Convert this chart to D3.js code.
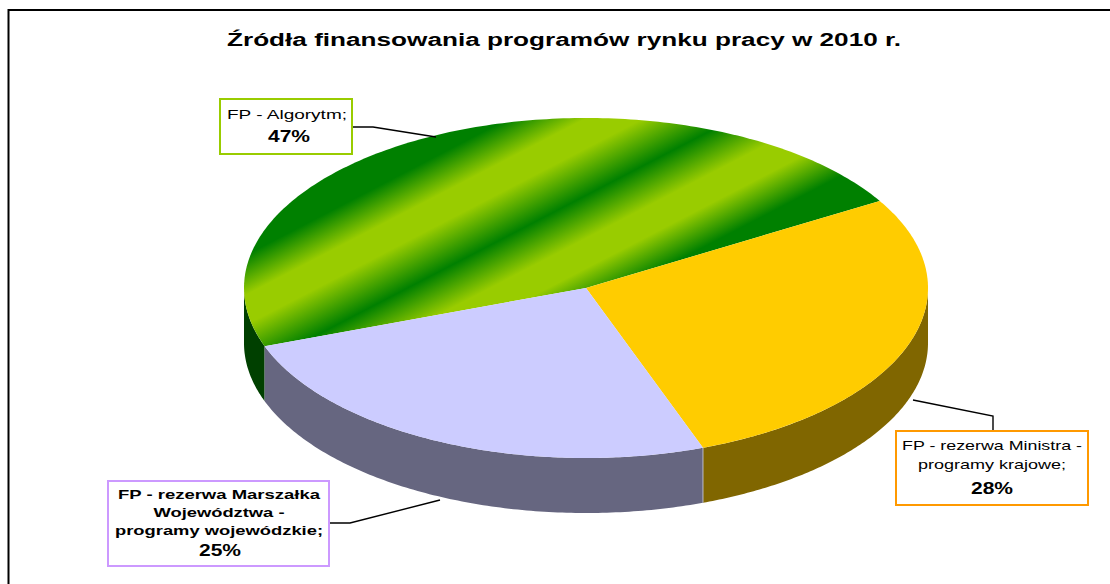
<!DOCTYPE html>
<html lang="pl">
<head>
<meta charset="utf-8">
<title>Źródła finansowania programów rynku pracy w 2010 r.</title>
<script src="https://cdn.jsdelivr.net/npm/d3@7"></script>
<style>
  html, body { margin: 0; padding: 0; background: #fff; }
  svg { display: block; font-family: "Liberation Sans", Arial, sans-serif; }
</style>
</head>
<body>
<svg id="chart" width="1110" height="584"></svg>
<script>
// dane
const categories = ["FP - Algorytm", "FP - rezerwa Ministra - programy krajowe", "FP - rezerwa Marszałka Województwa - programy wojewódzkie"];
const values = [47, 28, 25];
const labelLines = [
  ["FP - Algorytm;"],
  ["FP - rezerwa Ministra -", "programy krajowe;"],
  ["FP - rezerwa Marszałka", "Województwa -", "programy wojewódzkie;"]
];
const titleText = "Źródła finansowania programów rynku pracy w 2010 r.";

const topColors = ["url(#algorytm)", "#ffcc00", "#ccccff"];
const wallColors = ["#004000", "#806600", "#666680"];
const borderColors = ["#99cc00", "#ff9900", "#cc99ff"];

// pozycje etykiet: ramka, tekst (baseline, szerokość) i linia odniesienia
const boxes = [
  { x: 220, y: 99, w: 132, h: 55, bold: false, mid: 287, pctMid: 289, lines: [[119, 120]], pctY: 142,
    leader: [[352, 127], [373, 127], [436, 137]] },
  { x: 896, y: 431, w: 192, h: 74, bold: false, mid: 992, pctMid: 992, lines: [[450, 180], [469, 148]], pctY: 494,
    leader: [[913, 400], [993, 416], [993, 431]] },
  { x: 108, y: 481, w: 221, h: 85, bold: true, mid: 219, pctMid: 220, lines: [[499, 202], [517, 131], [535, 208]], pctY: 556,
    leader: [[329, 523], [350, 523], [440, 500]] }
];

const cx = 586, cy = 288, rx = 342, ry = 170, depth = 55;
const startAngle = 250 * Math.PI / 180;

const svg = d3.select("#chart");

// gradient w paski dla największego wycinka
const dark = "#008000", light = "#99cc00";
const grad = svg.append("defs").append("linearGradient")
    .attr("id", "algorytm")
    .attr("gradientUnits", "userSpaceOnUse")
    .attr("x1", 400).attr("y1", 175)
    .attr("x2", 494).attr("y2", 356);
[[0, dark], [0.174, light], [0.304, light], [0.509, dark], [0.696, light], [0.826, light], [1, dark]].forEach(s => {
  grad.append("stop").attr("offset", s[0]).attr("stop-color", s[1]);
});

// ramka wykresu - wychodzi poza prawą i dolną krawędź
svg.append("rect")
    .attr("x", 8.5).attr("y", 10)
    .attr("width", 1130).attr("height", 600)
    .attr("fill", "#fff")
    .attr("stroke", "#000").attr("stroke-width", 2);

// tekst w oryginale jest rozciągnięty w poziomie, stąd textLength
svg.append("text")
    .attr("x", 564).attr("y", 46)
    .attr("text-anchor", "middle")
    .attr("font-size", 18).attr("font-weight", "bold")
    .attr("textLength", 674).attr("lengthAdjust", "spacingAndGlyphs")
    .text(titleText);

const pie = d3.pie().sort(null)
    .startAngle(startAngle)
    .endAngle(startAngle + 2 * Math.PI);
const slices = pie(values);

const px = a => cx + rx * Math.sin(a);
const py = a => cy - ry * Math.cos(a);

// ściana boczna - tylko przednia połowa elipsy
function wallPath(d) {
  const parts = [];
  [0, 1].forEach(k => {
    const lo = Math.max(d.startAngle, Math.PI / 2 + 2 * Math.PI * k);
    const hi = Math.min(d.endAngle, 3 * Math.PI / 2 + 2 * Math.PI * k);
    if (hi <= lo) return;
    const angles = d3.range(0, 121).map(i => lo + (hi - lo) * i / 120);
    const pts = angles.map(a => [px(a), py(a)])
        .concat(angles.slice().reverse().map(a => [px(a), py(a) + depth]));
    parts.push(d3.line()(pts) + "Z");
  });
  return parts.join("");
}

svg.append("g").selectAll("path")
    .data(slices)
    .join("path")
    .attr("d", wallPath)
    .attr("fill", (d, i) => wallColors[i]);

// odcinek jasnej krawędzi między ścianami
const edge = slices[1].endAngle - 2 * Math.PI;
svg.append("line")
    .attr("x1", px(edge)).attr("y1", py(edge))
    .attr("x2", px(edge)).attr("y2", py(edge) + depth)
    .attr("stroke", "#b9b9c8").attr("stroke-width", 1);

// górna powierzchnia: próbkowana elipsa, żeby gradient nie był skalowany
svg.append("g").selectAll("path")
    .data(slices)
    .join("path")
    .attr("d", d => {
      const n = 180;
      const pts = [[cx, cy]].concat(d3.range(0, n + 1).map(i => {
        const a = d.startAngle + (d.endAngle - d.startAngle) * i / n;
        return [px(a), py(a)];
      }));
      return d3.line()(pts) + "Z";
    })
    .attr("fill", (d, i) => topColors[i]);

// linie odniesienia
svg.append("g").selectAll("path")
    .data(boxes)
    .join("path")
    .attr("d", d => d3.line()(d.leader))
    .attr("fill", "none")
    .attr("stroke", "#000").attr("stroke-width", 1.4);

// etykiety danych
const labels = svg.append("g").selectAll("g")
    .data(boxes)
    .join("g");

labels.append("rect")
    .attr("x", d => d.x).attr("y", d => d.y)
    .attr("width", d => d.w).attr("height", d => d.h)
    .attr("fill", "#fff")
    .attr("stroke", (d, i) => borderColors[i]).attr("stroke-width", 2);

labels.each(function (d, i) {
  const g = d3.select(this);
  labelLines[i].forEach((line, j) => {
    g.append("text")
        .attr("x", d.mid).attr("y", d.lines[j][0])
        .attr("text-anchor", "middle")
        .attr("font-size", 13.5)
        .attr("font-weight", d.bold ? "bold" : "normal")
        .attr("textLength", d.lines[j][1]).attr("lengthAdjust", "spacingAndGlyphs")
        .text(line);
  });
  g.append("text")
      .attr("x", d.pctMid).attr("y", d.pctY)
      .attr("text-anchor", "middle")
      .attr("font-size", 16).attr("font-weight", "bold")
      .attr("textLength", 42).attr("lengthAdjust", "spacingAndGlyphs")
      .text(values[i] + "%");
});
</script>
</body>
</html>
